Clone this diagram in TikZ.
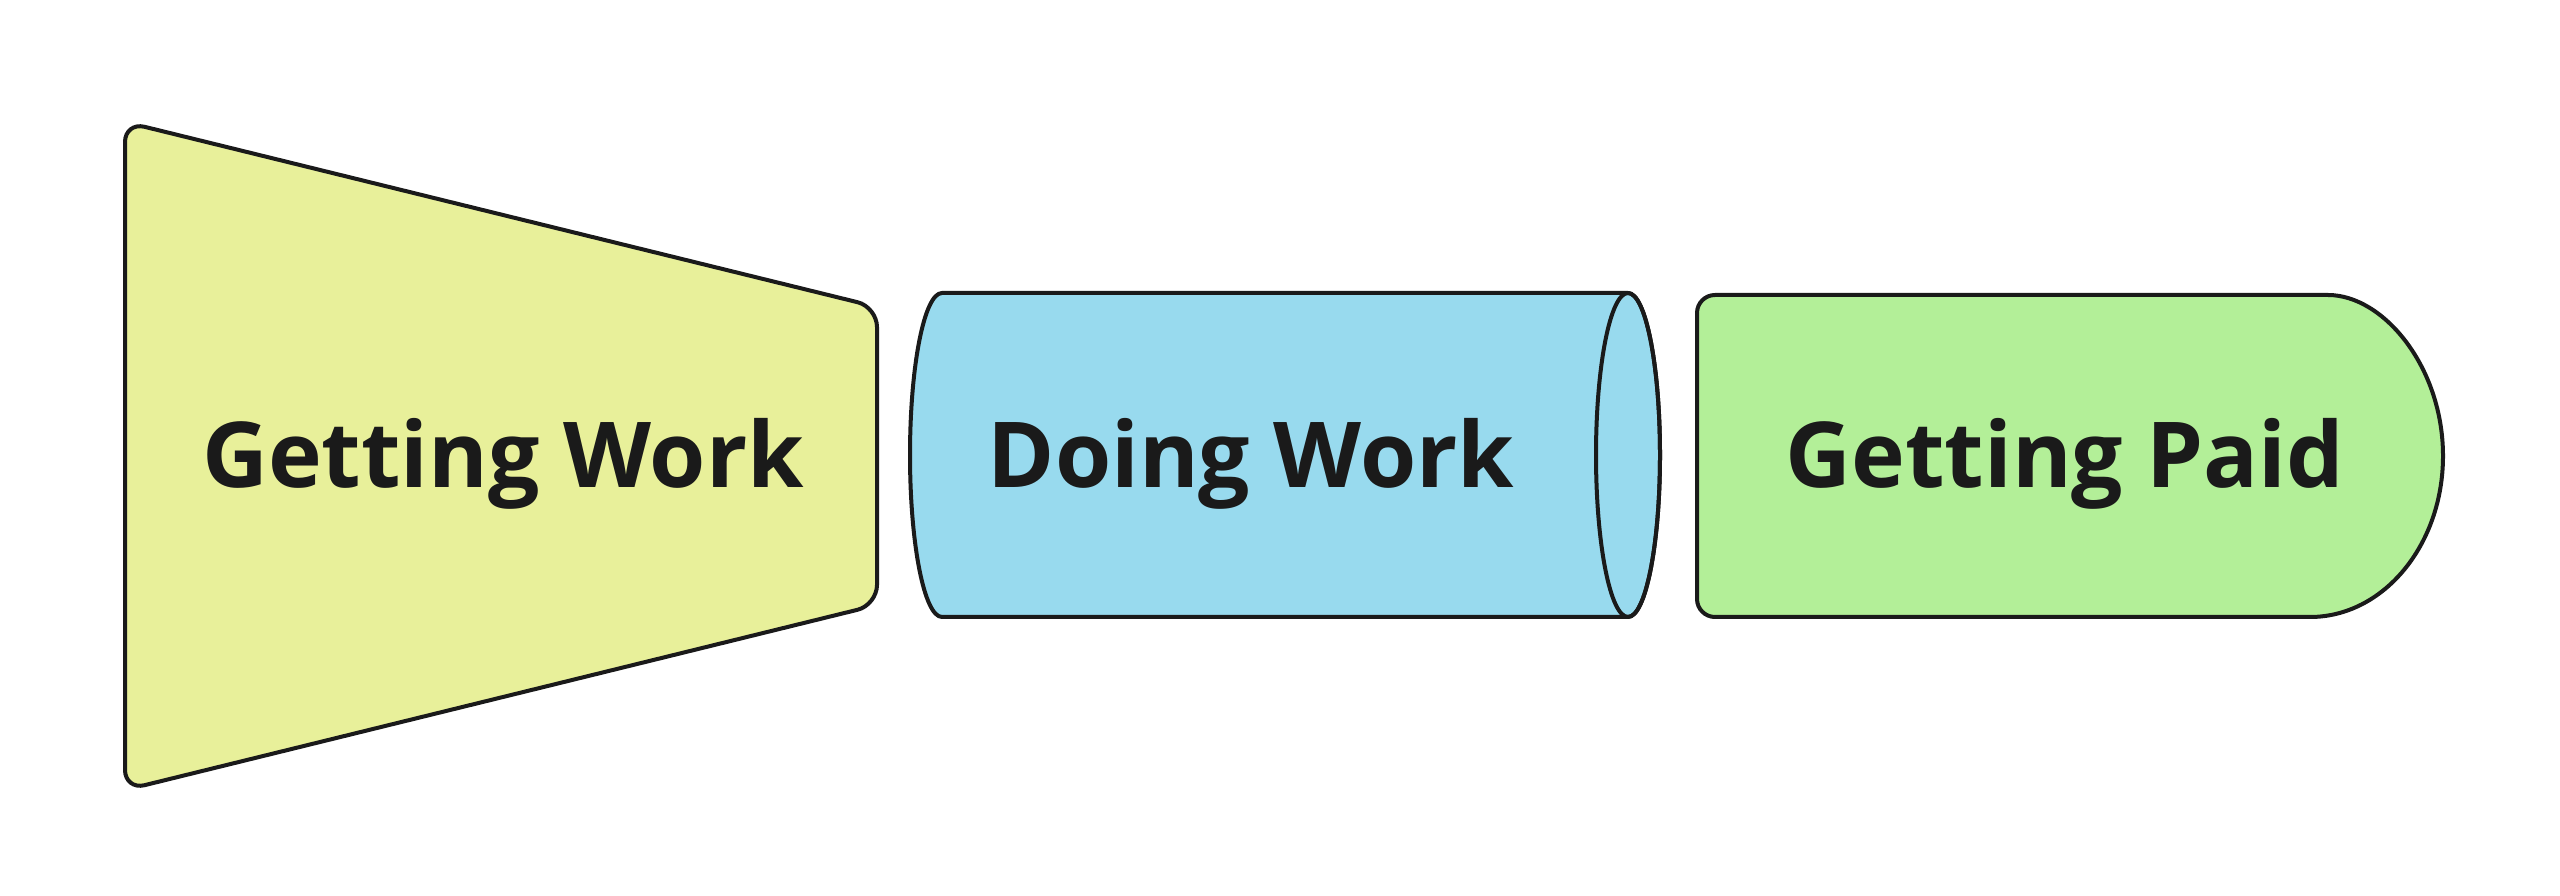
\documentclass[tikz,border=0pt]{standalone}
\usepackage{fontspec}
\setmainfont{Open Sans}
\usetikzlibrary{positioning}
\definecolor{getworkfill}{HTML}{E8F09A}
\definecolor{doworkfill}{HTML}{98DAEE}
\definecolor{getpaidfill}{HTML}{B3EF98}
\definecolor{ink}{HTML}{1A1A1A}

\begin{document}
\begin{tikzpicture}[x=0.25pt, y=-0.25pt, line join=round,
    stage/.style={draw=ink, line width=1pt},
    stagetext/.style={anchor=base, inner sep=0pt, text=ink,
      font=\fontsize{22.75}{27}\selectfont\bfseries}]
    \useasboundingbox (0,0) rectangle (2560,896);

    % funnel
    \draw[stage, fill=getworkfill, rounded corners=5pt]
      (125,122) -- (877,307) -- (877,605) -- (125,790) -- cycle;
    % pipe
    \draw[stage, fill=doworkfill] (942,293) -- (1628,293)
      arc[start angle=-90, end angle=90, x radius=32, y radius=162]
      -- (942,617)
      arc[start angle=90, end angle=270, x radius=32, y radius=162] -- cycle;
    \draw[stage] (1628,455) ellipse[x radius=32, y radius=162];
    % pay-out
    \draw[stage, fill=getpaidfill] (2310,295)
      arc[start angle=-90, end angle=90, x radius=133, y radius=161]
      [rounded corners=4.5pt] -- (1697,617) -- (1697,295) -- cycle;

    \node[stagetext] (getwork) at (503,488) {Getting Work};
    \node[stagetext] (dowork) at (1251,488) {Doing Work};
    \node[stagetext] (getpaid) at (2065,488) {Getting Paid};
\end{tikzpicture}
\end{document}
